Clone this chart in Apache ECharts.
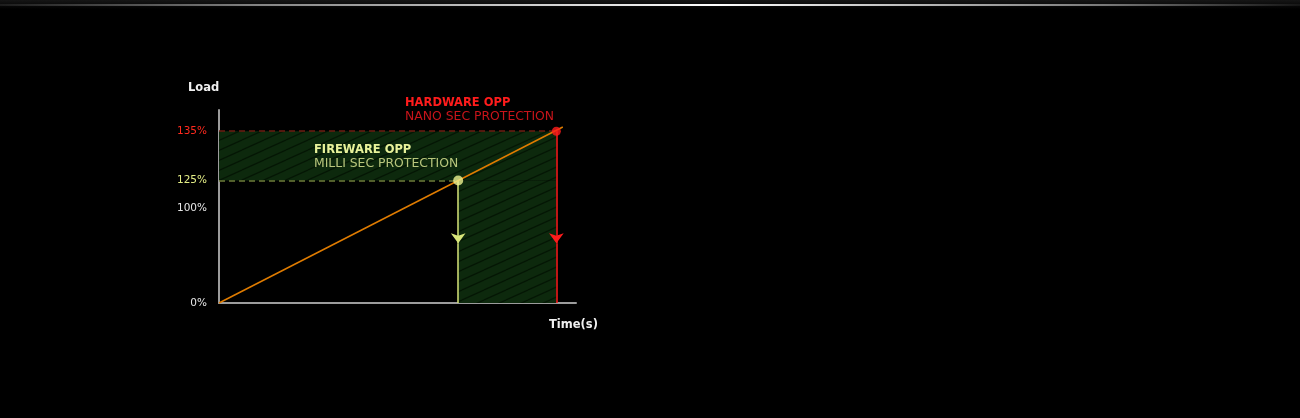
<!DOCTYPE html>
<html>
<head>
<meta charset="utf-8">
<script src="https://cdn.jsdelivr.net/npm/echarts@6/dist/echarts.min.js"></script>
<style>
  html, body { margin: 0; padding: 0; background: #000; }
  #chart { width: 1300px; height: 418px; }
</style>
</head>
<body>
<div id="chart"></div>
<script>
// y levels are drawn positions on the (non linear) load axis, 0..100 = axis height
var levelLabels = ['0%', '100%', '125%', '135%'];
var levelPos = [0, 49, 63.5, 89];
var levelColors = ['#e6e6e6', '#e6e6e6', '#e4ee86', '#ff2a1e'];

// time axis 0..100 = axis length
var loadLine = [[0, 0], [96.3, 91.2]];
var firmwarePoint = [67, 63.5];
var hardwarePoint = [94.5, 89];
var arrowLevel = 31;

// hatch pattern for the protection zone
function hatch() {
    var c = document.createElement('canvas');
    var w = 22, h = 10;
    c.width = w; c.height = h;
    var ctx = c.getContext('2d');
    ctx.fillStyle = '#0d290d';
    ctx.fillRect(0, 0, w, h);
    ctx.strokeStyle = '#051605';
    ctx.lineWidth = 1.2;
    for (var k = -2; k <= 2; k++) {
        ctx.beginPath();
        ctx.moveTo(0, h + k * h);
        ctx.lineTo(w, k * h);
        ctx.stroke();
    }
    return c;
}

var zone = { image: hatch(), repeat: 'repeat' };
var font = '"DejaVu Sans"';

var myChart = echarts.init(document.getElementById('chart'));
var option = {
    backgroundColor: '#000',
    animation: false,
    grid: { left: 219, top: 110, width: 357, height: 193 },
    xAxis: {
        type: 'value', min: 0, max: 100,
        axisLine: { lineStyle: { color: '#9c9c9c', width: 2 } },
        axisTick: { show: false },
        axisLabel: { show: false },
        splitLine: { show: false }
    },
    yAxis: {
        type: 'value', min: 0, max: 100,
        axisLine: { show: true, lineStyle: { color: '#9c9c9c', width: 2 } },
        axisTick: { show: false },
        splitLine: { show: false },
        axisLabel: {
            customValues: levelPos,
            margin: 12,
            fontFamily: 'DejaVu Sans',
            fontSize: 10.5,
            formatter: function (v) {
                return levelLabels[levelPos.indexOf(v)];
            },
            color: function (v) {
                return levelColors[levelPos.indexOf(Number(v))];
            }
        }
    },
    graphic: [
        {
            type: 'rect', silent: true,
            shape: { x: 0, y: 0, width: 1300, height: 9 },
            style: {
                fill: new echarts.graphic.LinearGradient(0, 0, 0, 1, [
                    { offset: 0, color: '#161616' },
                    { offset: 1, color: '#000' }
                ])
            }
        },
        {
            type: 'rect', silent: true,
            shape: { x: 0, y: 4, width: 1300, height: 2 },
            style: {
                fill: new echarts.graphic.LinearGradient(0, 0, 1, 0, [
                    { offset: 0, color: 'rgba(255,255,255,0.08)' },
                    { offset: 0.2, color: 'rgba(255,255,255,0.5)' },
                    { offset: 0.55, color: '#ffffff' },
                    { offset: 0.85, color: 'rgba(255,255,255,0.45)' },
                    { offset: 1, color: 'rgba(255,255,255,0.05)' }
                ])
            }
        },
        {
            type: 'text', left: 188, top: 82, z: 100,
            style: { text: 'Load', fill: '#f0f0f0', font: 'bold 11.5px ' + font }
        },
        {
            type: 'text', left: 549, top: 319, z: 100,
            style: { text: 'Time(s)', fill: '#f0f0f0', font: 'bold 11.5px ' + font }
        },
        {
            type: 'text', left: 405, top: 97, z: 100,
            style: { text: 'HARDWARE OPP', fill: '#ff1c1c', font: 'bold 11.5px ' + font }
        },
        {
            type: 'text', left: 405, top: 111, z: 100,
            style: { text: 'NANO SEC PROTECTION', fill: '#c8141a', font: '12.4px ' + font }
        },
        {
            type: 'text', left: 314, top: 144, z: 100,
            style: { text: 'FIREWARE OPP', fill: '#e8f29a', font: 'bold 11.5px ' + font }
        },
        {
            type: 'text', left: 314, top: 158, z: 100,
            style: { text: 'MILLI SEC PROTECTION', fill: '#b9c67c', font: '12.4px ' + font }
        }
    ],
    series: [
        {
            type: 'line',
            data: loadLine,
            symbol: 'none',
            z: 5,
            lineStyle: { color: '#e07c00', width: 1.5 },
            markArea: {
                silent: true,
                itemStyle: { color: zone },
                data: [
                    [{ coord: [0, firmwarePoint[1]] }, { coord: hardwarePoint }],
                    [{ coord: [firmwarePoint[0], 0] }, { coord: [hardwarePoint[0], firmwarePoint[1]] }]
                ]
            },
            markLine: {
                silent: true,
                symbol: 'none',
                label: { show: false },
                data: [
                    [{ coord: [0, hardwarePoint[1]], lineStyle: { color: '#6e1e12', type: [6, 4], width: 1.5 } },
                     { coord: hardwarePoint }],
                    [{ coord: [0, firmwarePoint[1]], lineStyle: { color: '#6e7c3a', type: [6, 4], width: 1.5 } },
                     { coord: firmwarePoint }],
                    [{ coord: firmwarePoint, lineStyle: { color: '#d8e67a', type: 'solid', width: 1.5 } },
                     { coord: [firmwarePoint[0], arrowLevel], symbol: 'arrow', symbolSize: [11, 10] }],
                    [{ coord: [firmwarePoint[0], arrowLevel], lineStyle: { color: '#d8e67a', type: 'solid', width: 1.5 } },
                     { coord: [firmwarePoint[0], 0] }],
                    [{ coord: hardwarePoint, lineStyle: { color: '#ff1c1c', type: 'solid', width: 1.5 } },
                     { coord: [hardwarePoint[0], arrowLevel], symbol: 'arrow', symbolSize: [11, 10] }],
                    [{ coord: [hardwarePoint[0], arrowLevel], lineStyle: { color: '#ff1c1c', type: 'solid', width: 1.5 } },
                     { coord: [hardwarePoint[0], 0] }]
                ]
            }
        },
        {
            type: 'scatter',
            z: 6,
            data: [
                { value: firmwarePoint, itemStyle: { color: '#eef290' }, symbolSize: 10 },
                { value: hardwarePoint, itemStyle: { color: '#ff1c1c' }, symbolSize: 9 }
            ]
        }
    ]
};
myChart.setOption(option);
window.addEventListener('resize', function () {
    myChart.resize();
});
</script>
</body>
</html>
